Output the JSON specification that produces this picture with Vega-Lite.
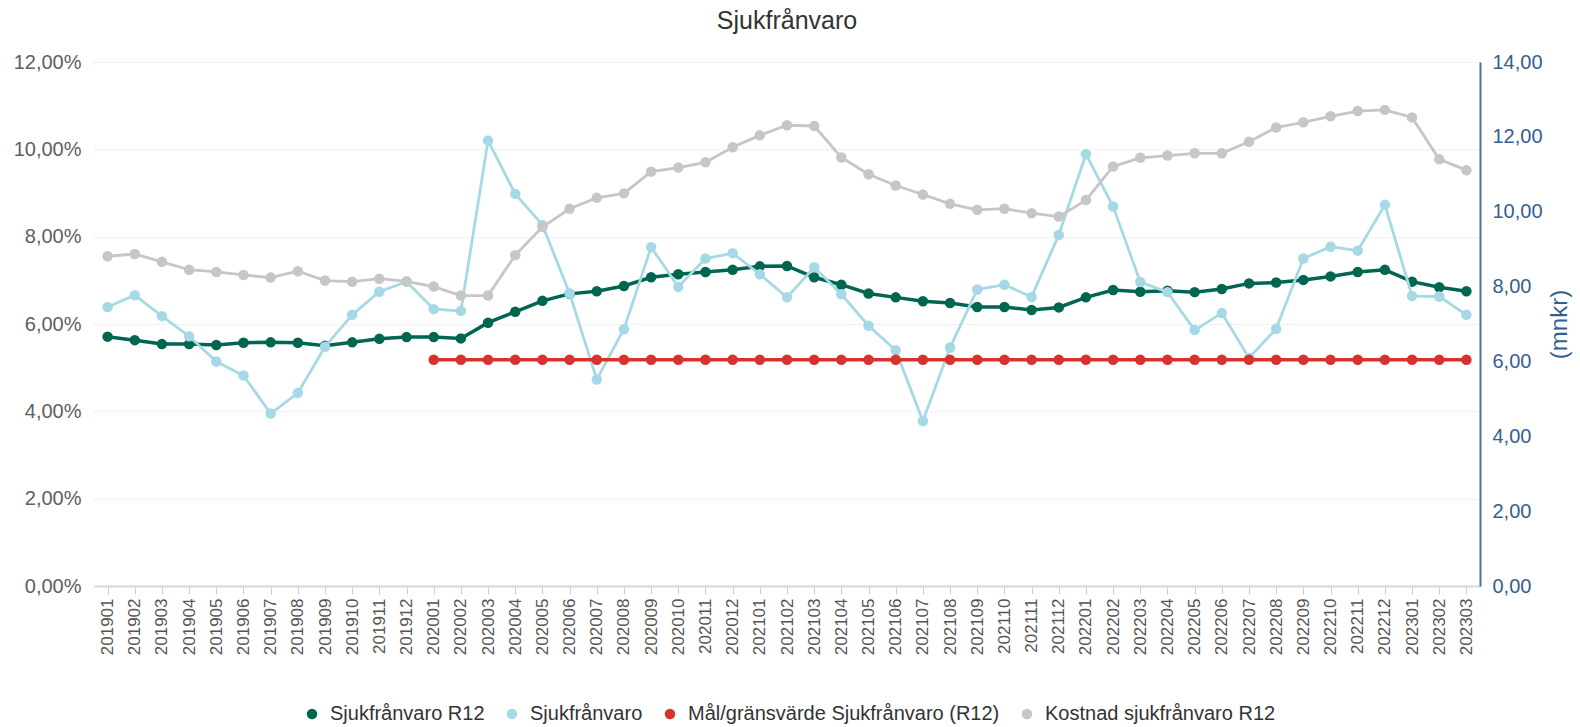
{
  "$schema": "https://vega.github.io/schema/vega-lite/v6.json",
  "width": 1386,
  "height": 524,
  "autosize": "none",
  "padding": {"left": 94, "top": 62, "right": 100, "bottom": 141},
  "title": {"text": "Sjukfrånvaro", "fontSize": 25, "fontWeight": "normal", "color": "#333333", "frame": "group", "offset": 18, "anchor": "middle", "font": "Liberation Sans"},
  "config": {"view": {"stroke": null}, "font": "Liberation Sans"},
  "data": {"values": [
    {"month": "201901", "r12": 5.71, "sj": 6.39, "mal": null, "kost": 8.81},
    {"month": "201902", "r12": 5.63, "sj": 6.66, "mal": null, "kost": 8.87},
    {"month": "201903", "r12": 5.54, "sj": 6.18, "mal": null, "kost": 8.66},
    {"month": "201904", "r12": 5.54, "sj": 5.72, "mal": null, "kost": 8.45},
    {"month": "201905", "r12": 5.52, "sj": 5.14, "mal": null, "kost": 8.39},
    {"month": "201906", "r12": 5.57, "sj": 4.82, "mal": null, "kost": 8.31},
    {"month": "201907", "r12": 5.58, "sj": 3.95, "mal": null, "kost": 8.24},
    {"month": "201908", "r12": 5.57, "sj": 4.42, "mal": null, "kost": 8.41},
    {"month": "201909", "r12": 5.50, "sj": 5.48, "mal": null, "kost": 8.16},
    {"month": "201910", "r12": 5.58, "sj": 6.21, "mal": null, "kost": 8.13},
    {"month": "201911", "r12": 5.66, "sj": 6.74, "mal": null, "kost": 8.21},
    {"month": "201912", "r12": 5.70, "sj": 6.97, "mal": null, "kost": 8.14},
    {"month": "202001", "r12": 5.70, "sj": 6.34, "mal": 5.18, "kost": 8.00},
    {"month": "202002", "r12": 5.67, "sj": 6.30, "mal": 5.18, "kost": 7.76},
    {"month": "202003", "r12": 6.03, "sj": 10.20, "mal": 5.18, "kost": 7.76},
    {"month": "202004", "r12": 6.28, "sj": 8.98, "mal": 5.18, "kost": 8.84},
    {"month": "202005", "r12": 6.53, "sj": 8.27, "mal": 5.18, "kost": 9.59},
    {"month": "202006", "r12": 6.69, "sj": 6.70, "mal": 5.18, "kost": 10.08},
    {"month": "202007", "r12": 6.75, "sj": 4.73, "mal": 5.18, "kost": 10.37},
    {"month": "202008", "r12": 6.87, "sj": 5.88, "mal": 5.18, "kost": 10.49},
    {"month": "202009", "r12": 7.07, "sj": 7.76, "mal": 5.18, "kost": 11.07},
    {"month": "202010", "r12": 7.14, "sj": 6.85, "mal": 5.18, "kost": 11.18},
    {"month": "202011", "r12": 7.19, "sj": 7.50, "mal": 5.18, "kost": 11.32},
    {"month": "202012", "r12": 7.24, "sj": 7.62, "mal": 5.18, "kost": 11.72},
    {"month": "202101", "r12": 7.32, "sj": 7.14, "mal": 5.18, "kost": 12.04},
    {"month": "202102", "r12": 7.33, "sj": 6.61, "mal": 5.18, "kost": 12.31},
    {"month": "202103", "r12": 7.07, "sj": 7.30, "mal": 5.18, "kost": 12.29},
    {"month": "202104", "r12": 6.90, "sj": 6.68, "mal": 5.18, "kost": 11.45},
    {"month": "202105", "r12": 6.70, "sj": 5.96, "mal": 5.18, "kost": 11.00},
    {"month": "202106", "r12": 6.61, "sj": 5.40, "mal": 5.18, "kost": 10.70},
    {"month": "202107", "r12": 6.52, "sj": 3.78, "mal": 5.18, "kost": 10.46},
    {"month": "202108", "r12": 6.48, "sj": 5.46, "mal": 5.18, "kost": 10.21},
    {"month": "202109", "r12": 6.39, "sj": 6.79, "mal": 5.18, "kost": 10.05},
    {"month": "202110", "r12": 6.39, "sj": 6.90, "mal": 5.18, "kost": 10.08},
    {"month": "202111", "r12": 6.32, "sj": 6.62, "mal": 5.18, "kost": 9.96},
    {"month": "202112", "r12": 6.38, "sj": 8.04, "mal": 5.18, "kost": 9.87},
    {"month": "202201", "r12": 6.61, "sj": 9.89, "mal": 5.18, "kost": 10.31},
    {"month": "202202", "r12": 6.78, "sj": 8.69, "mal": 5.18, "kost": 11.21},
    {"month": "202203", "r12": 6.74, "sj": 6.96, "mal": 5.18, "kost": 11.44},
    {"month": "202204", "r12": 6.76, "sj": 6.73, "mal": 5.18, "kost": 11.50},
    {"month": "202205", "r12": 6.73, "sj": 5.86, "mal": 5.18, "kost": 11.56},
    {"month": "202206", "r12": 6.80, "sj": 6.25, "mal": 5.18, "kost": 11.56},
    {"month": "202207", "r12": 6.93, "sj": 5.22, "mal": 5.18, "kost": 11.87},
    {"month": "202208", "r12": 6.95, "sj": 5.89, "mal": 5.18, "kost": 12.25},
    {"month": "202209", "r12": 7.01, "sj": 7.50, "mal": 5.18, "kost": 12.39},
    {"month": "202210", "r12": 7.09, "sj": 7.77, "mal": 5.18, "kost": 12.55},
    {"month": "202211", "r12": 7.19, "sj": 7.68, "mal": 5.18, "kost": 12.69},
    {"month": "202212", "r12": 7.24, "sj": 8.73, "mal": 5.18, "kost": 12.72},
    {"month": "202301", "r12": 6.97, "sj": 6.64, "mal": 5.18, "kost": 12.52},
    {"month": "202302", "r12": 6.84, "sj": 6.63, "mal": 5.18, "kost": 11.40},
    {"month": "202303", "r12": 6.75, "sj": 6.21, "mal": 5.18, "kost": 11.11}
  ]},
  "encoding": {
    "x": {"field": "month", "type": "ordinal", "sort": null,
      "axis": {"title": null, "labelAngle": -90, "labelFontSize": 17, "labelColor": "#555555", "tickSize": 8, "tickColor": "#cccccc", "domainColor": "#d8d8d8", "domainWidth": 2, "labelPadding": 4, "grid": false, "labelFont": "Liberation Sans"}}
  },
  "layer": [
    {
      "layer": [
        {
          "mark": {"type": "line", "strokeWidth": 3.5, "point": {"filled": true, "size": 110}},
          "encoding": {
            "y": {"field": "r12", "type": "quantitative", "scale": {"domain": [0, 12], "nice": false},
              "axis": {"title": null, "values": [0, 2, 4, 6, 8, 10, 12], "labelExpr": "replace(format(datum.value, '.2f'), '.', ',') + '%'", "domain": false, "ticks": false, "grid": true, "gridColor": "#e4e4e4", "gridDash": [2, 2], "labelFontSize": 20, "labelColor": "#606060", "labelPadding": 13, "labelFont": "Liberation Sans"}},
            "color": {"datum": "Sjukfrånvaro R12", "type": "nominal",
              "scale": {"domain": ["Sjukfrånvaro R12", "Sjukfrånvaro", "Mål/gränsvärde Sjukfrånvaro (R12)", "Kostnad sjukfrånvaro R12"], "range": ["#00664f", "#a6d9e6", "#d8312e", "#c6c6c6"]},
              "legend": {"orient": "none", "legendX": 208, "legendY": 642, "direction": "horizontal", "title": null, "labelFontSize": 20, "labelLimit": 500, "labelColor": "#333333", "labelFont": "Liberation Sans", "symbolType": "circle", "symbolSize": 110, "labelOffset": 8, "columnPadding": 17, "padding": 0,
                "encode": {"symbols": {"update": {"fill": {"scale": "color", "field": "value"}, "fillOpacity": {"value": 1}, "strokeWidth": {"value": 0}}}}}}
          }
        },
        {
          "mark": {"type": "line", "strokeWidth": 2.8, "point": {"filled": true, "size": 110}},
          "encoding": {
            "y": {"field": "sj", "type": "quantitative"},
            "color": {"datum": "Sjukfrånvaro", "type": "nominal"}
          }
        },
        {
          "mark": {"type": "line", "strokeWidth": 3.5, "point": {"filled": true, "size": 110}},
          "encoding": {
            "y": {"field": "mal", "type": "quantitative"},
            "color": {"datum": "Mål/gränsvärde Sjukfrånvaro (R12)", "type": "nominal"}
          }
        }
      ]
    },
    {
      "mark": {"type": "line", "strokeWidth": 2.8, "point": {"filled": true, "size": 110}},
      "encoding": {
        "y": {"field": "kost", "type": "quantitative", "scale": {"domain": [0, 14], "nice": false},
          "axis": {"orient": "right", "title": "(mnkr)", "titleAngle": 270, "titleColor": "#34608f", "titleFontSize": 24, "titleFontWeight": "normal", "titlePadding": 29, "titleFont": "Liberation Sans", "values": [0, 2, 4, 6, 8, 10, 12, 14], "labelExpr": "replace(format(datum.value, '.2f'), '.', ',')", "domain": true, "domainColor": "#4a72a5", "domainWidth": 2, "ticks": false, "grid": false, "labelFontSize": 20, "labelColor": "#34608f", "labelPadding": 12, "labelFont": "Liberation Sans"}},
        "color": {"datum": "Kostnad sjukfrånvaro R12", "type": "nominal"}
      }
    }
  ],
  "resolve": {"scale": {"y": "independent"}}
}
